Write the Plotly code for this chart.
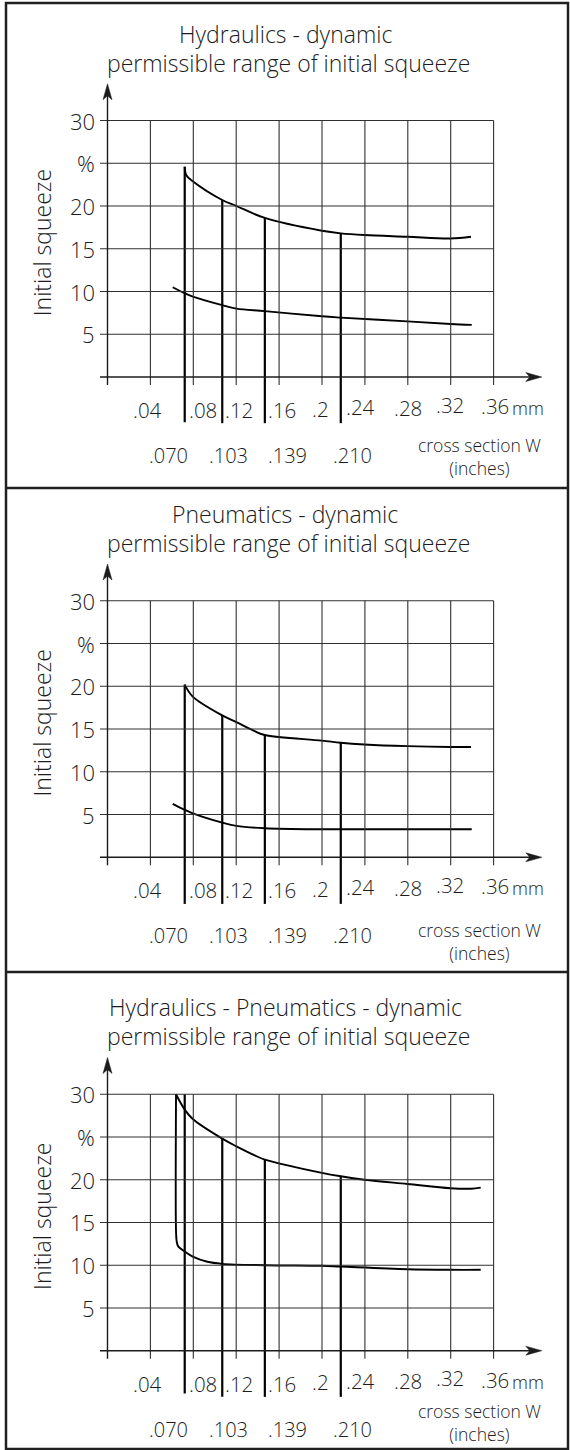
import plotly.graph_objects as go

# ---------------- data ----------------
titles_line1 = ["Hydraulics - dynamic", "Pneumatics - dynamic", "Hydraulics - Pneumatics - dynamic"]
title_line2 = "permissible range of initial squeeze"
y_title = "Initial squeeze"
y_tick_vals = [5, 10, 15, 20, 25, 30]
y_tick_text = ["5", "10", "15", "20", "%", "30"]
x_grid_vals = [0.0, 0.04, 0.08, 0.12, 0.16, 0.20, 0.24, 0.28, 0.32, 0.36]
x_tick_vals = [0.04, 0.08, 0.12, 0.16, 0.20, 0.24, 0.28, 0.32, 0.36]
x_tick_text = [".04", ".08", ".12", ".16", ".2", ".24", ".28", ".32", ".36"]
x_unit_text = "mm"
inch_marker_x = [0.072, 0.107, 0.1467, 0.2175]
inch_text = [".070", ".103", ".139", ".210"]
x_title_text = "cross section W<br>(inches)"

# panel 1 : Hydraulics
hyd_upper_x = [0.0720, 0.0735, 0.0795, 0.1070, 0.1202, 0.1467, 0.1999, 0.2175, 0.2396, 0.2796, 0.3199, 0.3389]
hyd_upper_y = [24.6, 23.6, 22.9, 20.7, 20.0, 18.6, 17.1, 16.8, 16.6, 16.4, 16.2, 16.4]
hyd_lower_x = [0.0608, 0.0720, 0.0795, 0.1070, 0.1202, 0.1467, 0.1999, 0.2175, 0.2796, 0.3199, 0.3396]
hyd_lower_y = [10.5, 9.8, 9.4, 8.4, 8.0, 7.7, 7.1, 6.95, 6.5, 6.2, 6.1]
hyd_marker_top = [24.6, 20.7, 18.6, 16.8]
hyd_marker_bottom = [-5.3, -5.4, -5.4, -5.4]

# panel 2 : Pneumatics
pneu_upper_x = [0.0720, 0.0795, 0.1070, 0.1202, 0.1372, 0.1467, 0.1999, 0.2175, 0.2396, 0.2796, 0.3199, 0.3389]
pneu_upper_y = [20.2, 18.8, 16.6, 15.8, 14.75, 14.3, 13.65, 13.4, 13.2, 13.0, 12.9, 12.9]
pneu_lower_x = [0.0608, 0.0720, 0.0795, 0.1070, 0.1202, 0.1467, 0.1999, 0.2175, 0.2796, 0.3396]
pneu_lower_y = [6.25, 5.55, 5.15, 4.06, 3.67, 3.4, 3.28, 3.28, 3.28, 3.28]
pneu_marker_top = [20.2, 16.6, 14.3, 13.4]
pneu_marker_bottom = [-5.45, -5.45, -5.45, -5.45]

# panel 3 : Hydraulics - Pneumatics
comb_upper_x = [0.0639, 0.0720, 0.0795, 0.1070, 0.1202, 0.1372, 0.1467, 0.1999, 0.2175, 0.2396, 0.2796, 0.3199, 0.3389, 0.3480]
comb_upper_y = [30.0, 28.2, 27.1, 24.8, 23.9, 22.85, 22.35, 20.8, 20.4, 20.0, 19.5, 19.0, 18.95, 19.07]
comb_lower_x = [0.0639, 0.0639, 0.0645, 0.0659, 0.0720, 0.0795, 0.0931, 0.1070, 0.1467, 0.1999, 0.2175, 0.2796, 0.3199, 0.3480]
comb_lower_y = [30.0, 14.0, 12.8, 12.2, 11.6, 11.0, 10.4, 10.16, 10.0, 9.93, 9.84, 9.53, 9.46, 9.46]
comb_marker_top = [30.0, 24.8, 22.35, 20.4]
comb_marker_bottom = [-5.0, -5.4, -5.4, -5.4]

# ---------------- layout geometry (pixels) ----------------
W, H = 570, 1450
X0_PX = 107.5          # pixel of x = 0
PX_PER_GRID = 42.9     # pixels per 0.04
PXY = 8.55             # pixels per 1 % on y
panel_axis_px = [377.0, 857.3, 1350.7]
panel_bounds_px = [(0, 488), (488, 972), (972, 1450)]
xtitle_offsets = [79.5, 84.5, 72.0]

FONT = "Open Sans"
INK = "#1c1c1c"
GRID = "#303030"


def px2x(px):
    return (px - X0_PX) * 0.04 / PX_PER_GRID


x_range = [px2x(0), px2x(W)]
x_left = px2x(100)
x_tip = px2x(541.8)
tick_len = 8.0 / PXY
y_tip = 34.3

panels = [
    (hyd_upper_x, hyd_upper_y, hyd_lower_x, hyd_lower_y, hyd_marker_top, hyd_marker_bottom),
    (pneu_upper_x, pneu_upper_y, pneu_lower_x, pneu_lower_y, pneu_marker_top, pneu_marker_bottom),
    (comb_upper_x, comb_upper_y, comb_lower_x, comb_lower_y, comb_marker_top, comb_marker_bottom),
]

fig = go.Figure()
shapes = []
annotations = []
layout_axes = {}

xtick_shift = [-3, 10, 3, 3, -1.5, -4, 0, -1, 1.5]
xtick_yshift = [0, 0, 0, 0, 1.5, 3, 2.5, 5.5, 4]
inch_label_px = [168, 228, 287.7, 352.7]

for i, (ux, uy, lx, ly, mtop, mbot) in enumerate(panels):
    sfx = "" if i == 0 else str(i + 1)
    xr, yr = "x" + sfx, "y" + sfx
    top_px, bot_px = panel_bounds_px[i]
    axis_px = panel_axis_px[i]
    y_range = [(axis_px - bot_px) / PXY, (axis_px - top_px) / PXY]
    layout_axes["xaxis" + sfx] = dict(range=x_range, domain=[0, 1], visible=False, anchor=yr, fixedrange=True)
    layout_axes["yaxis" + sfx] = dict(range=y_range, domain=[1 - bot_px / H, 1 - top_px / H],
                                      visible=False, anchor=xr, fixedrange=True)

    # grid
    for gx in x_grid_vals[1:]:
        shapes.append(dict(type="line", xref=xr, yref=yr, x0=gx, x1=gx, y0=-tick_len, y1=30,
                           line=dict(color=GRID, width=1.1)))
    for gy in y_tick_vals:
        shapes.append(dict(type="line", xref=xr, yref=yr, x0=x_left, x1=x_grid_vals[-1], y0=gy, y1=gy,
                           line=dict(color=GRID, width=1.1)))
    # axes with arrow heads
    shapes.append(dict(type="line", xref=xr, yref=yr, x0=0, x1=0, y0=-tick_len, y1=y_tip - 1,
                       line=dict(color=INK, width=1.4)))
    shapes.append(dict(type="line", xref=xr, yref=yr, x0=x_left, x1=x_tip - 0.005, y0=0, y1=0,
                       line=dict(color=INK, width=1.4)))
    shapes.append(dict(type="path", xref=xr, yref=yr, xsizemode="pixel", ysizemode="pixel",
                       xanchor=0, yanchor=y_tip, path="M0,0 L-4.5,-16 L0,-12 L4.5,-16 Z",
                       fillcolor=INK, line=dict(color=INK, width=0.5)))
    shapes.append(dict(type="path", xref=xr, yref=yr, xsizemode="pixel", ysizemode="pixel",
                       xanchor=x_tip, yanchor=0, path="M0,0 L-16,4.5 L-12,0 L-16,-4.5 Z",
                       fillcolor=INK, line=dict(color=INK, width=0.5)))

    # curves
    fig.add_trace(go.Scatter(x=ux, y=uy, mode="lines", xaxis=xr, yaxis=yr,
                             line=dict(color="black", width=1.9, shape="spline", smoothing=1.0),
                             hoverinfo="skip"))
    fig.add_trace(go.Scatter(x=lx, y=ly, mode="lines", xaxis=xr, yaxis=yr,
                             line=dict(color="black", width=1.9, shape="spline", smoothing=1.0),
                             hoverinfo="skip"))
    mx, my = [], []
    for xv, t, b in zip(inch_marker_x, mtop, mbot):
        mx += [xv, xv, None]
        my += [b, t, None]
    fig.add_trace(go.Scatter(x=mx, y=my, mode="lines", xaxis=xr, yaxis=yr,
                             line=dict(color="black", width=2.2), hoverinfo="skip"))

    def ann(x, y, text, size, xanchor="center", yanchor="middle", xshift=0, yshift=0, angle=0):
        annotations.append(dict(xref=xr, yref=yr, x=x, y=y, text=text, showarrow=False,
                                xanchor=xanchor, yanchor=yanchor, xshift=xshift, yshift=yshift,
                                textangle=angle,
                                font=dict(family=FONT, size=size, color=INK, weight=300)))

    # titles
    ann(px2x(285), 0, titles_line1[i], 23, yshift=343.5)
    ann(px2x(288), 0, title_line2, 23, yshift=314.5)
    # y ticks
    for v, t in zip(y_tick_vals, y_tick_text):
        ann(0, v, t, 22, xanchor="right", xshift=-11)
    ann(px2x(41.7), 0, y_title, 23, yshift=134.5, angle=-90)
    # x ticks
    for v, t, s, ys in zip(x_tick_vals, x_tick_text, xtick_shift, xtick_yshift):
        ann(v, 0, t, 20.5, xshift=s, yshift=-33 + ys)
    ann(px2x(527.5), 0, x_unit_text, 18, yshift=-31)
    # inch labels
    for px, t in zip(inch_label_px, inch_text):
        ann(px2x(px), 0, t, 20, yshift=-78.5)
    ann(px2x(479), 0, x_title_text, 17.5, yshift=-xtitle_offsets[i])

# panel frame
BORDER = dict(color="#202020", width=2.5)
L, R = 6 / W, 568 / W
shapes.append(dict(type="rect", xref="paper", yref="paper", x0=L, x1=R, y0=1 - 1449 / H, y1=1 - 3 / H,
                   line=BORDER))
for yb in (488, 972):
    shapes.append(dict(type="line", xref="paper", yref="paper", x0=L, x1=R, y0=1 - yb / H, y1=1 - yb / H,
                       line=BORDER))

fig.update_layout(width=W, height=H, margin=dict(l=0, r=0, t=0, b=0),
                  paper_bgcolor="white", plot_bgcolor="white", showlegend=False,
                  shapes=shapes, annotations=annotations, **layout_axes)

fig.write_html("out.html", config={"displayModeBar": False},
               post_script="document.body.style.margin='0';document.body.style.overflow='hidden';")
